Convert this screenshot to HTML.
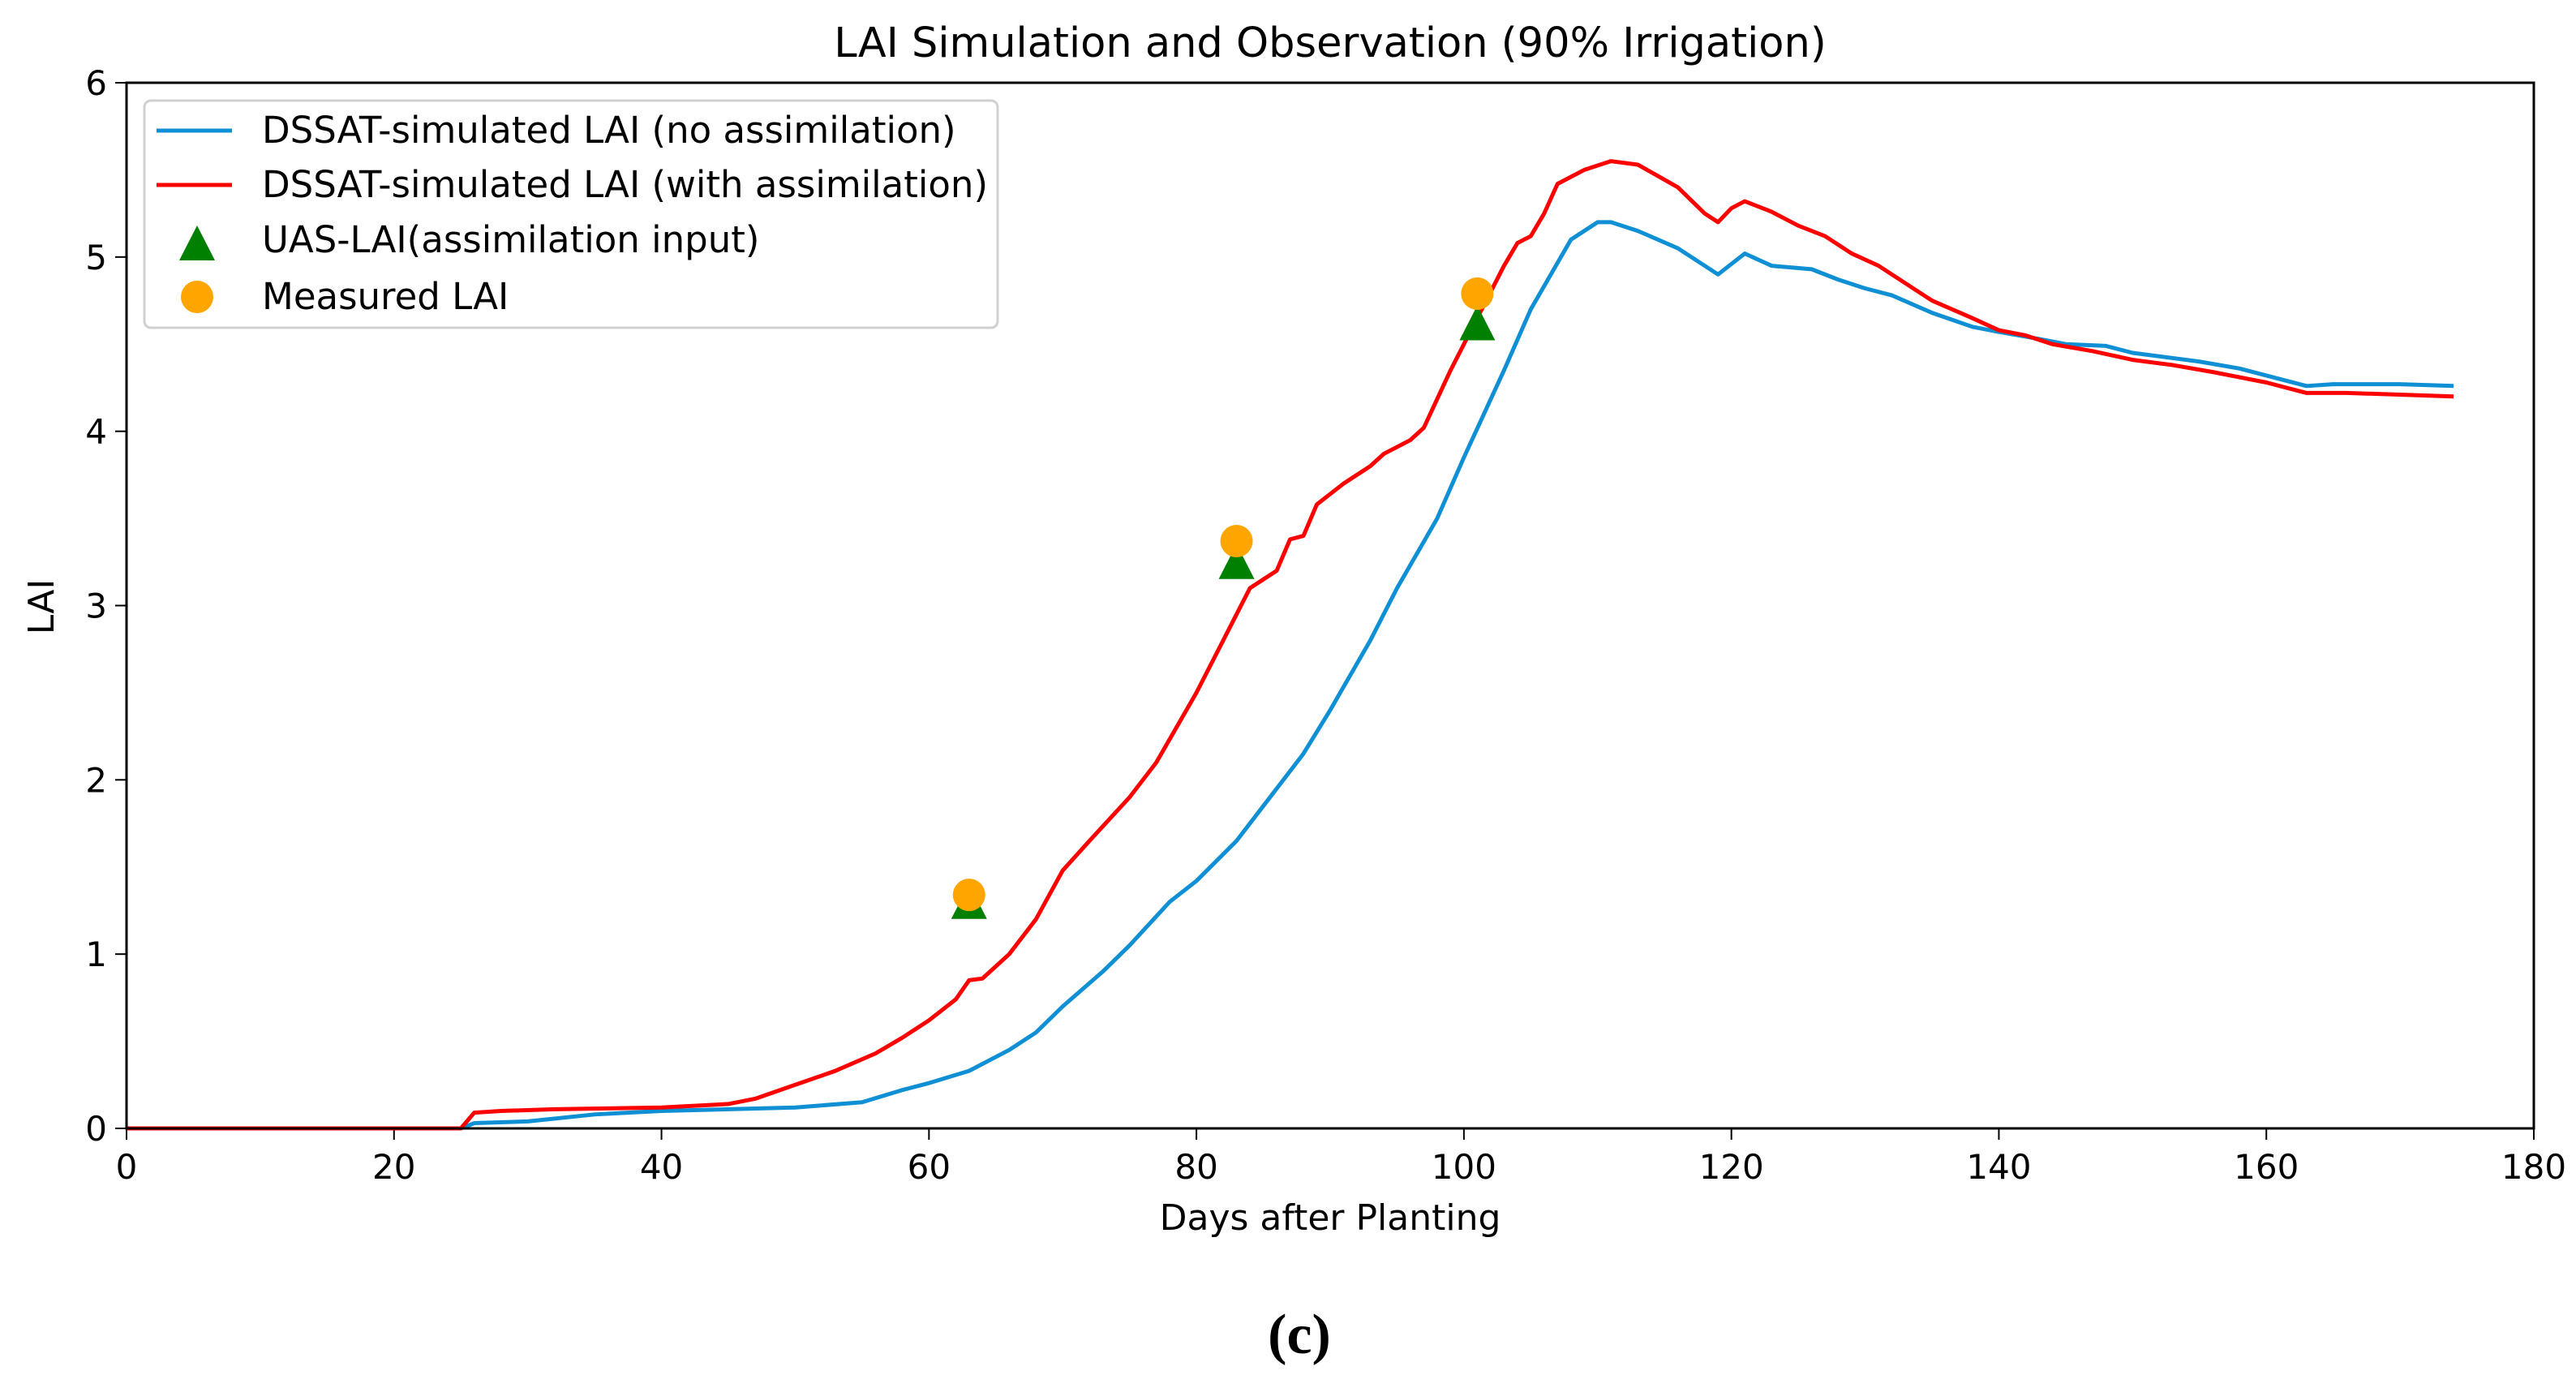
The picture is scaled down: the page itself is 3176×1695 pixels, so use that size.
<!DOCTYPE html>
<html><head><meta charset="utf-8"><style>
html,body{margin:0;padding:0;background:#fff;}
svg{display:block;font-family:"DejaVu Sans","Liberation Sans",sans-serif;}
</style></head><body>
<svg id="chart" width="3176" height="1695" viewBox="0 0 3176 1695" xmlns="http://www.w3.org/2000/svg">
<rect width="3176" height="1695" fill="#fff"/>
<text x="1640" y="70" font-size="51" text-anchor="middle" fill="#000">LAI Simulation and Observation (90% Irrigation)</text>
<g id="plot"></g>
<text x="1640" y="1516" font-size="44" text-anchor="middle" fill="#000">Days after Planting</text>
<text x="0" y="0" font-size="44" text-anchor="middle" fill="#000" transform="translate(66,748) rotate(-90)">LAI</text>
<text x="1602" y="1668" font-size="70" font-weight="bold" text-anchor="middle" font-family="Liberation Serif, serif" fill="#000">(c)</text>
<g>
<rect x="178" y="124" width="1052" height="280" rx="8" fill="#fff" stroke="#d0d0d0" stroke-width="3"/>
<line x1="193" y1="161" x2="286" y2="161" stroke="#0f8fd4" stroke-width="5"/>
<text x="323" y="176" font-size="45">DSSAT-simulated LAI (no assimilation)</text>
<line x1="193" y1="228" x2="286" y2="228" stroke="#ff0000" stroke-width="5"/>
<text x="323" y="243" font-size="45">DSSAT-simulated LAI (with assimilation)</text>
<polygon points="243,278 221,321 265,321" fill="#008000"/>
<text x="323" y="311" font-size="45">UAS-LAI(assimilation input)</text>
<circle cx="243" cy="366" r="20" fill="#ffa500"/>
<text x="323" y="381" font-size="45">Measured LAI</text>
</g>
</svg>
<script>
const xTicks = [0,20,40,60,80,100,120,140,160,180];
const yTicks = [0,1,2,3,4,5,6];
const blueDays = [0,25,26,30,35,40,45,50,55,58,60,63,66,68,70,73,75,78,80,83,85,88,90,93,95,98,100,103,105,108,110,111,113,116,119,121,123,126,128,130,132,135,138,140,143,145,148,150,155,158,160,163,165,170,174];
const blueLAI = [0,0,0.03,0.04,0.08,0.1,0.11,0.12,0.15,0.22,0.26,0.33,0.45,0.55,0.7,0.9,1.05,1.3,1.42,1.65,1.85,2.15,2.4,2.8,3.1,3.5,3.85,4.35,4.7,5.1,5.2,5.2,5.15,5.05,4.9,5.02,4.95,4.93,4.87,4.82,4.78,4.68,4.6,4.57,4.53,4.5,4.49,4.45,4.4,4.36,4.32,4.26,4.27,4.27,4.26];
const redDays = [0,25,26,28,32,40,45,47,50,53,56,58,60,62,63,64,66,68,70,72,75,77,80,82,84,85,86,87,88,89,91,93,94,96,97,99,101,103,104,105,106,107,109,111,113,116,118,119,120,121,123,125,127,129,131,133,135,138,140,142,144,147,150,153,156,158,160,163,166,170,174];
const redLAI = [0,0,0.09,0.1,0.11,0.12,0.14,0.17,0.25,0.33,0.43,0.52,0.62,0.74,0.85,0.86,1.0,1.2,1.48,1.65,1.9,2.1,2.5,2.8,3.1,3.15,3.2,3.38,3.4,3.58,3.7,3.8,3.87,3.95,4.02,4.35,4.65,4.95,5.08,5.12,5.25,5.42,5.5,5.55,5.53,5.4,5.25,5.2,5.28,5.32,5.26,5.18,5.12,5.02,4.95,4.85,4.75,4.65,4.58,4.55,4.5,4.46,4.41,4.38,4.34,4.31,4.28,4.22,4.22,4.21,4.2];
const uasDays = [63,83,101];
const uasLAI = [1.3,3.25,4.62];
const measDays = [63,83,101];
const measLAI = [1.34,3.37,4.79];

const NS='http://www.w3.org/2000/svg';
const X0=156,X1=3124,Y0=1391,Y1=102;
const sx=d=>X0+(d-0)/(180-0)*(X1-X0);
const sy=v=>Y0-(v-0)/(6-0)*(Y0-Y1);
const g=document.getElementById('plot');
function mk(tag,attrs){const e=document.createElementNS(NS,tag);for(const k in attrs)e.setAttribute(k,attrs[k]);g.appendChild(e);return e;}

xTicks.forEach(t=>{
  const l=mk('line',{x1:sx(t),x2:sx(t),y1:Y0,y2:Y0+14,stroke:'#000','stroke-width':2});
  
  
  const tx=mk('text',{x:sx(t),y:Y0+62,'font-size':42,'text-anchor':'middle'});
  tx.textContent=t;
  
  
});
yTicks.forEach(t=>{
  const l=mk('line',{x1:X0-14,x2:X0,y1:sy(t),y2:sy(t),stroke:'#000','stroke-width':2});
  
  
  const tx=mk('text',{x:X0-24,y:sy(t)+15,'font-size':42,'text-anchor':'end'});
  tx.textContent=t;
  
  
});

function line(days,vals,color,name){
  const p=mk('polyline',{points:days.map((d,i)=>sx(d)+','+sy(vals[i])).join(' '),fill:'none',stroke:color,'stroke-width':5,'stroke-linejoin':'round'});
  
  
}
line(blueDays,blueLAI,'#0f8fd4','no-assimilation-line');
line(redDays,redLAI,'#ff0000','with-assimilation-line');

uasDays.forEach((d,i)=>{
  const x=sx(d),y=sy(uasLAI[i]);
  const t=mk('polygon',{points:`${x},${y-22} ${x-22},${y+21} ${x+22},${y+21}`,fill:'#008000'});
  
  
});
measDays.forEach((d,i)=>{
  const c=mk('circle',{cx:sx(d),cy:sy(measLAI[i]),r:20,fill:'#ffa500'});
  
  
});
const frame=mk('rect',{x:X0,y:Y1,width:X1-X0,height:Y0-Y1,fill:'none',stroke:'#000','stroke-width':3});


</script>
</body></html>
